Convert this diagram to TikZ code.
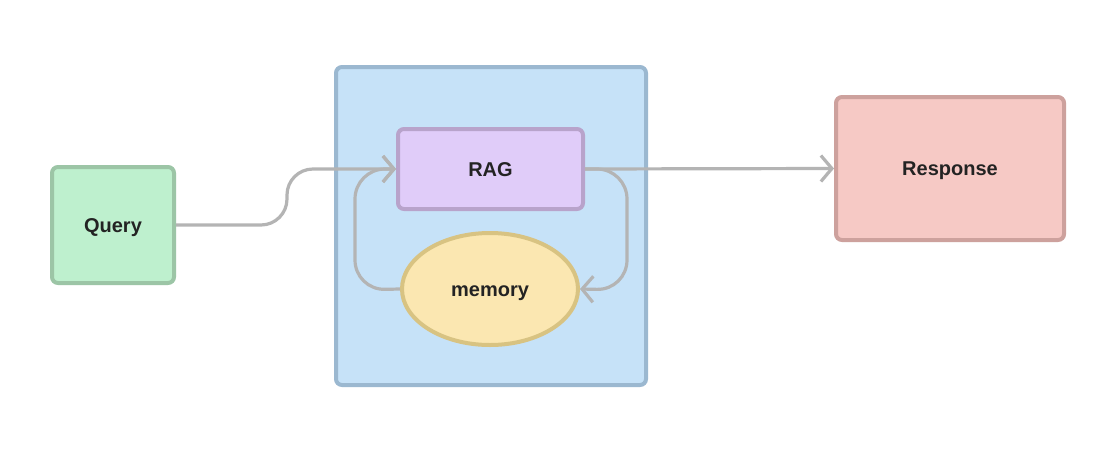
\documentclass[tikz,border=0pt]{standalone}
\usepackage{fontspec}
\setmainfont{Liberation Sans}
\usetikzlibrary{arrows.meta}
\usetikzlibrary{shapes.geometric}
\usepackage{xcolor}

\definecolor{queryfill}{HTML}{BEF0CE}
\definecolor{querydraw}{HTML}{9CC5A6}
\definecolor{ctxfill}{HTML}{C6E2F8}
\definecolor{ctxdraw}{HTML}{9BB8D0}
\definecolor{ragfill}{HTML}{E0CCF9}
\definecolor{ragdraw}{HTML}{B8A3CB}
\definecolor{memfill}{HTML}{FBE7B1}
\definecolor{memdraw}{HTML}{D8C382}
\definecolor{respfill}{HTML}{F6C9C5}
\definecolor{respdraw}{HTML}{CDA19D}
\definecolor{linkgray}{HTML}{B4B4B4}
\definecolor{txt}{HTML}{232323}

\tikzset{
	box/.style={rectangle, rounded corners=6pt, line width=4pt, text=txt,
		font=\fontsize{20}{23}\selectfont\bfseries, text height=14pt, text depth=0pt},
	link/.style={draw=linkgray, line width=3.2pt,
		-{Straight Barb[length=11pt,width=26pt,line width=3.2pt]}},
}

\begin{document}
\begin{tikzpicture}[x=1pt,y=-1pt]
				\useasboundingbox[fill=white] (0,0) rectangle (1118,450);
				% container
				\node[box, fill=ctxfill, draw=ctxdraw, minimum width=310pt, minimum height=318pt] (ctx) at (491,226) {};
				% nodes
				\node[box, fill=queryfill, draw=querydraw, minimum width=122pt, minimum height=116pt] (query) at (113,225) {Query};
				\node[box, fill=ragfill, draw=ragdraw, minimum width=185pt, minimum height=80pt] (rag) at (490.5,169) {RAG};
				\node[box, ellipse, fill=memfill, draw=memdraw, minimum width=176pt, minimum height=112pt] (mem) at (490,289) {memory};
				\node[box, fill=respfill, draw=respdraw, minimum width=228pt, minimum height=143pt] (resp) at (950,168.5) {Response};
				% links
				\draw[link, rounded corners=26pt] (query.east) -- (287,225) -- (287,169) -- (rag.west);
				\draw[link] (rag.east) -- (resp.west);
				\draw[link, rounded corners=30pt] (rag.east) -- (627,169) -- (627,290) -- (mem.east);
				\draw[link, rounded corners=30pt] (mem.west) -- (355,290) -- (355,169) -- (rag.west);
			\end{tikzpicture}
\end{document}
